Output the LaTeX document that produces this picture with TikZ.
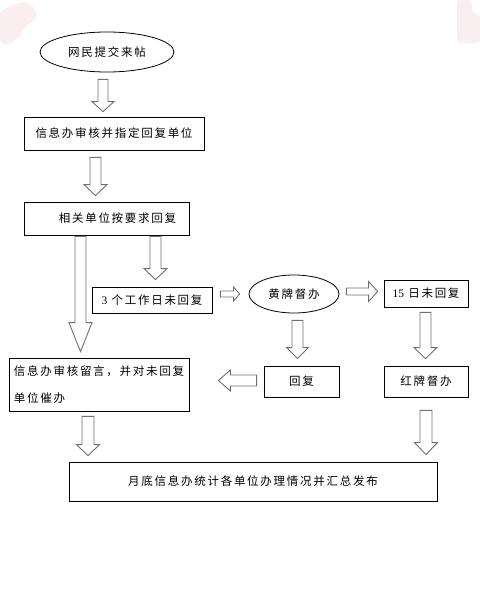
\documentclass[tikz,border=0pt]{standalone}
\usepackage{fontspec}
\setmainfont[LetterSpace=15]{Noto Sans CJK SC}
\newfontfamily\numfont{Liberation Serif}
\usetikzlibrary{calc,shapes.geometric}

\definecolor{arrowgray}{RGB}{112,112,112}
\definecolor{blush}{RGB}{251,238,240}

\tikzset{
    box/.style={draw=black, line width=0.8pt, inner sep=0pt},
    oval/.style={ellipse, draw=black, line width=0.8pt, inner sep=0pt},
    blockarrow/.style={draw=arrowgray, line width=0.9pt, fill=white, line join=miter}
}

% hollow block arrow: start, tip, half shaft, half head, head length
\newcommand{\blockarrow}[5]{%
    \draw[blockarrow] let \p1=#1, \p2=#2,
        \n1={veclen(\x2-\x1,\y2-\y1)},
        \n2={(\x2-\x1)/\n1}, \n3={(\y2-\y1)/\n1} in
        ({\x1-#3*\n3},{\y1+#3*\n2})
        -- ({\x2-#5*\n2-#3*\n3},{\y2-#5*\n3+#3*\n2})
        -- ({\x2-#5*\n2-#4*\n3},{\y2-#5*\n3+#4*\n2})
        -- (\p2)
        -- ({\x2-#5*\n2+#4*\n3},{\y2-#5*\n3-#4*\n2})
        -- ({\x2-#5*\n2+#3*\n3},{\y2-#5*\n3-#3*\n2})
        -- ({\x1+#3*\n3},{\y1-#3*\n2}) -- cycle;}

\begin{document}
\begin{tikzpicture}[x=1pt, y=-1pt, font=\fontsize{11.5}{14}\selectfont]

    \useasboundingbox (0,0) rectangle (479,594);

    % -------------------------------
    % 背景淡色斑
    % -------------------------------
    \fill[blush] plot[smooth cycle] coordinates {(0,14) (12,6) (24,2) (34,8) (36,18) (26,26) (20,36) (8,44) (0,40)};
    \fill[blush, rounded corners=5pt] (457,-2) -- (457,43) -- (481,43) -- (481,14) -- (472,14) -- (472,-2) -- cycle;

    % -------------------------------
    % 主流程
    % -------------------------------
    \node[oval, minimum width=134, minimum height=40] (post) at (107,52) {网民提交来帖};
    \node[box, minimum width=180, minimum height=33] (assign) at (114,133.5) {信息办审核并指定回复单位};
    \node[box, minimum width=165, minimum height=33] (reply) at (106.5,218.5) {\hspace*{22pt}相关单位按要求回复};

    % 督办分支
    \node[box, minimum width=120, minimum height=26] (late3) at (152,300) {{\numfont 3} 个工作日未回复};
    \node[oval, minimum width=90, minimum height=38] (yellow) at (294,294) {黄牌督办};
    \node[box, minimum width=84, minimum height=27] (late15) at (426,293.5) {{\numfont 15} 日未回复};
    \node[box, minimum width=75, minimum height=31] (done) at (301.5,381.5) {回复};
    \node[box, minimum width=84, minimum height=31] (red) at (426,381.5) {红牌督办};

    % 催办与汇总
    \node[box, minimum width=180, minimum height=53, align=left,
          font=\fontsize{11.5}{27}\selectfont] (urge) at (99,384.5) {信息办审核留言，并对未回复\\单位催办};
    \node[box, minimum width=368, minimum height=39] (summary) at (253,481.5) {月底信息办统计各单位办理情况并汇总发布};

    % -------------------------------
    % 空心箭头
    % -------------------------------
    \blockarrow{($(post.south)+(-4,7)$)}{($(post.south |- assign.north)+(-4,-5)$)}{5}{11}{10}
    \blockarrow{($(assign.south)+(-18.5,7)$)}{($(assign.south |- reply.north)+(-18.5,-6)$)}{5.5}{11.5}{11}
    \blockarrow{($(reply.south)+(-26,1)$)}{($(reply.south |- urge.north)+(-26,-6)$)}{5.5}{11.5}{29}
    \blockarrow{($(reply.south)+(49,1)$)}{($(reply.south |- late3.north)+(49,-7)$)}{5.5}{11.5}{11}
    \blockarrow{($(late3.east)+(8,-6)$)}{($(yellow.west |- late3.east)+(-9,-6)$)}{3}{7}{6}
    \blockarrow{($(yellow.east)+(7,-2.5)$)}{($(late15.west |- yellow.east)+(-6,-2.5)$)}{3.5}{10}{9}
    \blockarrow{($(yellow.south)+(3.5,7)$)}{($(yellow.south |- done.north)+(3.5,-7)$)}{5.5}{11}{11}
    \blockarrow{($(late15.south)+(-0.5,5)$)}{($(late15.south |- red.north)+(-0.5,-7)$)}{5.5}{11.5}{11}
    \blockarrow{($(done.west)+(-7,-1)$)}{($(urge.east |- done.west)+(29,-1)$)}{5.5}{10.5}{12}
    \blockarrow{($(urge.south)+(-11,5)$)}{($(urge.south |- summary.north)+(-11,-6)$)}{6}{11.5}{11}
    \blockarrow{($(red.south)+(0,13)$)}{($(red.south |- summary.north)+(0,-7)$)}{6}{11.5}{12}

\end{tikzpicture}
\end{document}
